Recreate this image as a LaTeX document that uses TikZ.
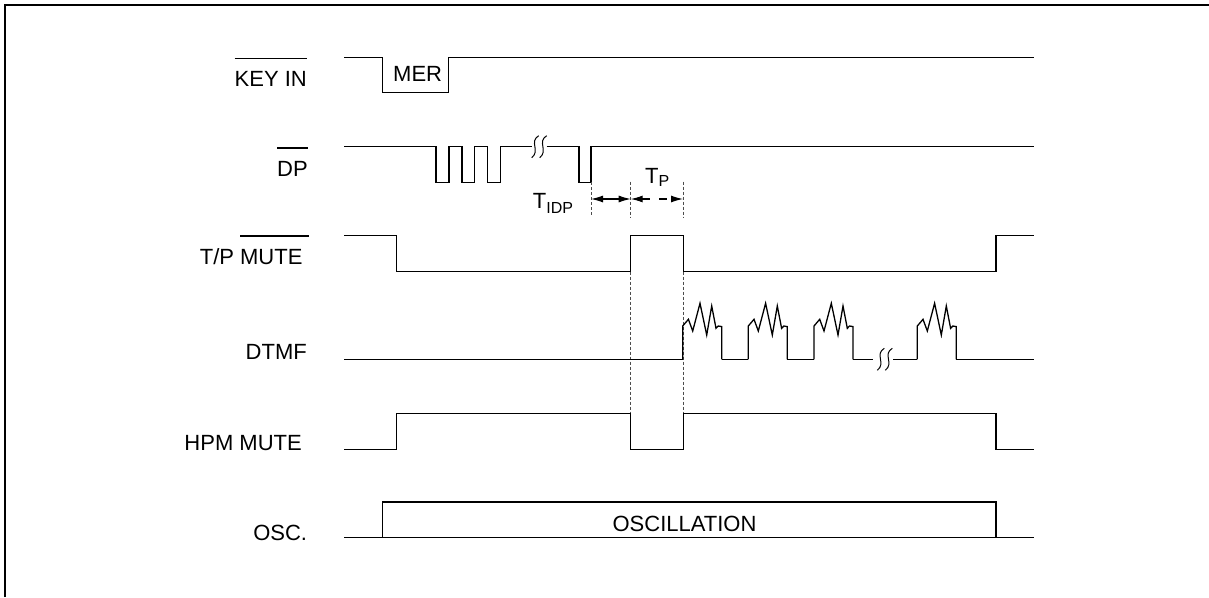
\documentclass[tikz,border=0pt]{standalone}
\usepackage{fontspec}
\setmainfont{Liberation Sans}
\usetikzlibrary{arrows.meta}
\newcommand{\barlbl}[1]{\setbox0\hbox{#1}\rlap{\rule[27.5pt]{\wd0}{1.2pt}}\box0}
\tikzset{
    sig/.style =    {line width=1.3pt,
                    line join=miter},
    lbl/.style =    {anchor=base east,
                    inner sep=0pt,
                    font=\fontsize{22}{26}\selectfont},
    txt/.style =    {anchor=base west,
                    inner sep=0pt,
                    font=\fontsize{22}{26}\selectfont},
    guide/.style =  {line width=0.8pt,
                    dash pattern=on 3pt off 2pt,
                    draw=black!70},
    span/.style =   {line width=1.1pt,
                    {Latex[length=12pt,width=7pt]}-{Latex[length=12pt,width=7pt]}},
    -,
    brk/.pic =      {\draw[line width=1pt] (7,-11) .. controls (-3,-5) and (9,4) .. (0,11);
                     \draw[line width=1pt] (15,-11) .. controls (5,-5) and (17,4) .. (8,11);},
    burst/.pic =    {\draw[sig] (0,0) -- (0,-33.3) -- (5.7,-40) -- (10,-28.3) -- (17.3,-56)
                        -- (24,-24.3) -- (29,-53.3) -- (33.3,-31) -- (35.5,-33.3)
                        -- (39,-32.7) -- (39,0);},
    x=1pt, y=-1pt}

\begin{document}
\begin{tikzpicture}
    \useasboundingbox (0,0) rectangle (1209,597);
    \draw[line width=2.5pt] (5.2,597) -- (5.2,5.2) -- (1209,5.2);

    % signal names
    \node[lbl]  (KEY)   at (307,86.7)   {\barlbl{KEY IN}};
    \node[lbl]  (DP)    at (308,176)    {\barlbl{DP}};
    \node[lbl]  (TPM)   at (308.8,264)  {T/P \barlbl{MUTE }};
    \node[lbl]  (DTMF)  at (307,359)    {DTMF};
    \node[lbl]  (HPM)   at (302,450.7)  {HPM MUTE};
    \node[lbl]  (OSC)   at (307.3,540)  {OSC.};

    % KEY IN
    \draw[sig] (344,57.3) -| (382.7,92.7) -| (448.3,57.3) -- (1034,57.3);
    \node[txt]  (MER)   at (393,81.7)   {MER};

    % DP
    \draw[sig] (344,146.7) -| (436,182.3) -| (449,146.7) -| (462,182.3) -| (474.5,146.7)
        -| (487.5,182.3) -| (500.5,146.7) -- (531.7,146.7);
    \pic at (531.7,146.7) {brk};
    \draw[sig] (546.7,146.7) -| (579,182.3) -| (591,146.7) -- (1034,146.7);

    % timing marks
    \coordinate (idpL) at (591,199);
    \coordinate (idpR) at (630.7,199);
    \coordinate (pR)   at (683,199);
    \draw[guide] (591,182.3) -- (591,216.7);
    \draw[guide] (630.7,181.7) -- (630.7,218.3);
    \draw[guide] (683,181.7) -- (683,218.3);
    \draw[span] (idpL) -- (idpR);
    \draw[span,dash pattern=on 8pt off 9pt] (idpR) -- (pR);
    \node[txt]  (TIDP)  at (532.7,208.3) {T\raisebox{-5pt}{\fontsize{16}{16}\selectfont IDP}};
    \node[txt]  (TP)    at (645,183.3)   {T\raisebox{-3.5pt}{\fontsize{16}{16}\selectfont P}};

    % T/P MUTE
    \draw[sig] (344,235.7) -| (396.7,271.7) -| (630.7,235.7) -| (683.3,271.7) -| (996,235.7) -- (1034,235.7);
    \draw[guide] (630.7,271.7) -- (630.7,413.5);
    \draw[guide] (683.3,271.7) -- (683.3,413.5);

    % DTMF
    \draw[sig] (344,359.3) -- (682.7,359.3);
    \foreach \x in {682.7,748.3,814,917.3}
        \pic at (\x,359.3) {burst};
    \draw[sig] (721.7,359.3) -- (748.3,359.3);
    \draw[sig] (787.3,359.3) -- (814,359.3);
    \draw[sig] (852.7,359.3) -- (873.3,359.3);
    \pic at (877.3,359.3) {brk};
    \draw[sig] (893.3,359.3) -- (917.3,359.3);
    \draw[sig] (956.3,359.3) -- (1034,359.3);

    % HPM MUTE
    \draw[sig] (344,449.3) -| (396.7,413.5) -| (630.7,449.3) -| (683.3,413.5) -| (996,449.3) -- (1034,449.3);

    % OSC.
    \draw[sig] (344,537.3) -- (1034,537.3);
    \draw[sig] (382.7,537.3) |- (996,502) -- (996,537.3);
    \node[txt,anchor=base] (OSCI) at (684.5,531.5) {OSCILLATION};
\end{tikzpicture}
\end{document}
